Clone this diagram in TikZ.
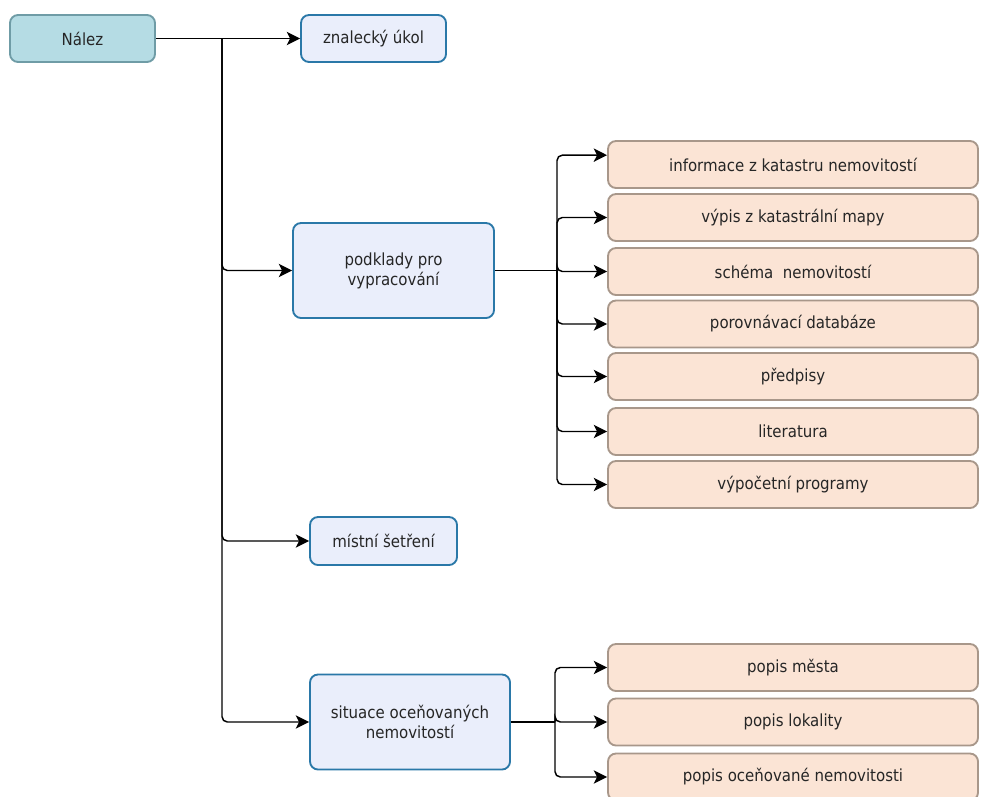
\documentclass[tikz,border=0pt]{standalone}
\usepackage{fontspec}
\setmainfont{DejaVu Sans Condensed}
\usetikzlibrary{arrows.meta}
\definecolor{rootfill}{HTML}{B5DCE4}
\definecolor{rootdraw}{HTML}{6F9CA6}
\definecolor{bluefill}{HTML}{EAEEFB}
\definecolor{bluedraw}{HTML}{2A78A8}
\definecolor{peachfill}{HTML}{FBE4D5}
\definecolor{peachdraw}{HTML}{A8978A}
\definecolor{txt}{HTML}{262626}
\tikzset{
  base/.style={rounded corners=6pt, line width=1.4pt, text=txt, font=\fontsize{12.5pt}{15pt}\selectfont, align=center, inner sep=2pt},
  rootbox/.style={base, fill=rootfill, draw=rootdraw, minimum width=108.75pt, minimum height=35.25pt},
  bluebox/.style={base, fill=bluefill, draw=bluedraw},
  peachbox/.style={base, fill=peachfill, draw=peachdraw, minimum width=277.5pt, minimum height=35.25pt},
  conn/.style={line width=1.1pt, draw=black, -{Stealth[length=10pt,width=10pt,inset=2.5pt]}, rounded corners=4pt},
  plain/.style={line width=1.1pt, draw=black}
}
\begin{document}
\begin{tikzpicture}[x=0.75pt,y=-0.75pt]
\useasboundingbox (0,0) rectangle (981,796);
\node[rootbox] (nalez) at (82.5,38.5) {Nález};
\node[bluebox, minimum width=108.75pt, minimum height=35.25pt] (ukol) at (373.5,38.5) {znalecký úkol};
\node[bluebox, minimum width=150.75pt, minimum height=71.25pt] (podklady) at (393.5,270.5) {podklady pro\\vypracování};
\node[bluebox, minimum width=110.25pt, minimum height=36pt] (setreni) at (383.5,541) {místní šetření};
\node[bluebox, minimum width=150pt, minimum height=71.25pt] (situace) at (410,722) {situace oceňovaných\\nemovitostí};

\node[peachbox] (info) at (793,164.5) {informace z katastru nemovitostí};
\node[peachbox] (vypis) at (793,217.5) {výpis z katastrální mapy};
\node[peachbox] (schema) at (793,271.5) {schéma\ \ nemovitostí};
\node[peachbox] (databaze) at (793,324) {porovnávací databáze};
\node[peachbox] (predpisy) at (793,376.5) {předpisy};
\node[peachbox] (lit) at (793,431.5) {literatura};
\node[peachbox] (program) at (793,484.5) {výpočetní programy};
\node[peachbox] (mesto) at (793,667.5) {popis města};
\node[peachbox] (lokalita) at (793,722) {popis lokality};
\node[peachbox] (nemov) at (793,777) {popis oceňované nemovitosti};

\coordinate (t1) at (222,38.5);
\coordinate (t2) at (557,270.5);
\coordinate (t3) at (555,722);

% main trunk
\draw[conn] (nalez.east) -- (ukol.west);
\draw[conn] (t1) |- (podklady.west);
\draw[conn] (t1) |- (setreni.west);
\draw[conn] (t1) |- (situace.west);

% podklady group
\draw[plain] (podklady.east) -- (t2);
\draw[conn] (t2) |- ([yshift=7pt]info.west);
\draw[conn] (t2) |- (vypis.west);
\draw[conn] (t2) |- (schema.west);
\draw[conn] (t2) |- (databaze.west);
\draw[conn] (t2) |- (predpisy.west);
\draw[conn] (t2) |- (lit.west);
\draw[conn] (t2) |- (program.west);

% situace group
\draw[plain] (situace.east) -- (t3);
\draw[conn] (t3) |- (mesto.west);
\draw[conn] (t3) |- (lokalita.west);
\draw[conn] (t3) |- (nemov.west);
\end{tikzpicture}
\end{document}
